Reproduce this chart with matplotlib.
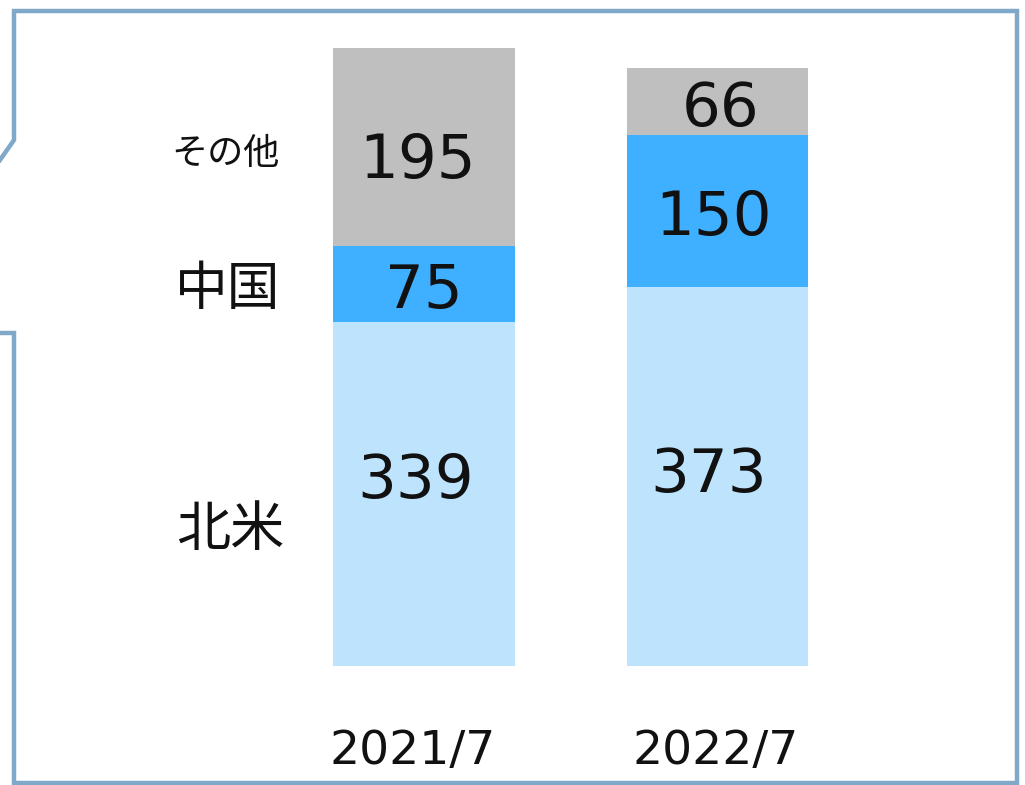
import numpy as np
import matplotlib.pyplot as plt
from matplotlib.lines import Line2D

plt.rcParams['font.family'] = ['Noto Sans CJK JP', 'DejaVu Sans']

# データ
periods = ['2021/7', '2022/7']
regions = ['北米', '中国', 'その他']
north_america = [339, 373]
china = [75, 150]
others = [195, 66]
colors = ['#BDE3FD', '#3FAFFF', '#BFBFBF']

W, H = 1025, 785
fig = plt.figure(figsize=(W / 100, H / 100), dpi=100)
ax = fig.add_axes([0, 0, 1, 1])

# ピクセル位置に合わせたスケール
px_per_unit = 1.0148
base_px = 666
ax.set_ylim(-(H - base_px) / px_per_unit, base_px / px_per_unit)
px_per_x = 293.5
x0_px = 424
ax.set_xlim(-x0_px / px_per_x, (W - x0_px) / px_per_x)
ax.axis('off')

# ラベルの微調整 (px): [系列][期間]
dx = [[-8, -9], [0, -4], [-6, 3]]
dy = [[19, 8], [-1, -1], [-8, -1]]

x = np.arange(len(periods))
series = [north_america, china, others]
bottom = np.zeros(len(periods))
for s, (vals, col) in enumerate(zip(series, colors)):
    vals = np.array(vals)
    ax.bar(x, vals, width=0.62, bottom=bottom, color=col, edgecolor='none')
    for i, (xi, b, v) in enumerate(zip(x, bottom, vals)):
        ax.text(xi + dx[s][i] / px_per_x, b + v / 2 + dy[s][i] / px_per_unit, str(v),
                ha='center', va='center_baseline', fontsize=44,
                family='DejaVu Sans', color='#111111')
    bottom += vals

# 系列ラベル (左側)
label_pos = [(-0.66, 134, 39), (-0.67, 371, 38), (-0.677, 505, 26)]
for name, (lx, ly, fs) in zip(regions, label_pos):
    ax.text(lx, ly, name, ha='center', va='center', fontsize=fs, color='#111111')

# 期間ラベル
for xi, p, off in zip(x, periods, [-11, -2]):
    ax.text(xi + off / px_per_x, -84, p, ha='center', va='center', fontsize=34,
            family='DejaVu Sans', color='#111111')

# 枠線
bx = [0, 14, 14, 1017, 1017, 14, 14, 0]
by = [333, 333, 783, 783, 11, 11, 140, 160]
fig.add_artist(Line2D([v / W for v in bx], [1 - v / H for v in by],
                      transform=fig.transFigure, color='#7FA8C9', lw=3.2,
                      solid_joinstyle='miter'))

fig.savefig('out.png', dpi=100)
